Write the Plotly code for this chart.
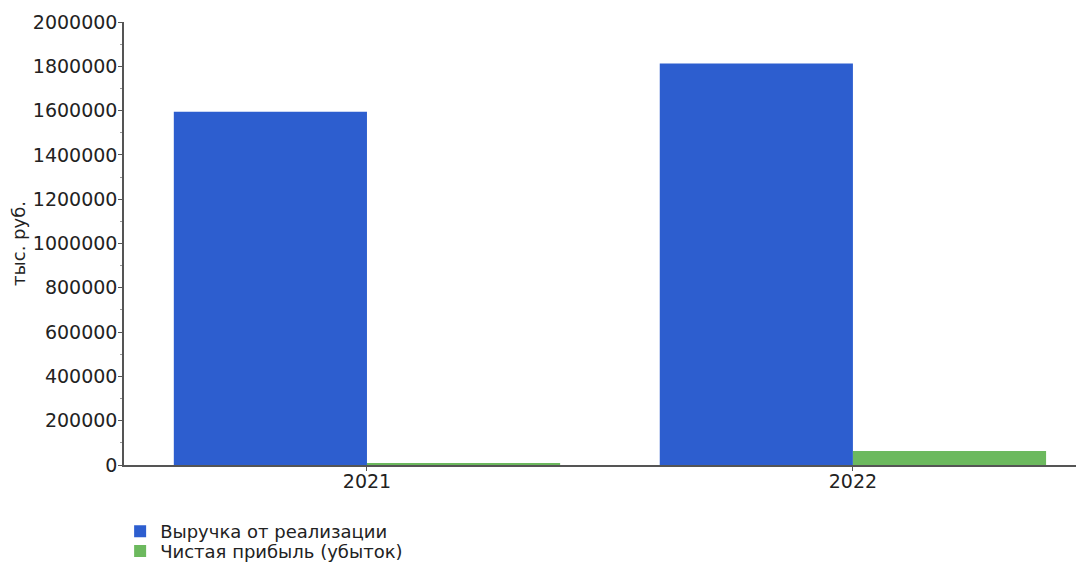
import plotly.graph_objects as go

years = ["2021", "2022"]
revenue = [1595000, 1813000]
net_profit = [9000, 63000]
series_names = ["Выручка от реализации", "Чистая прибыль (убыток)"]
y_ticks = [0, 200000, 400000, 600000, 800000, 1000000, 1200000, 1400000, 1600000, 1800000, 2000000]

fig = go.Figure()
fig.add_trace(go.Bar(x=years, y=revenue, name=series_names[0], marker_color="#2d5ecf",
                     marker_line_width=0, legend="legend"))
fig.add_trace(go.Bar(x=years, y=net_profit, name=series_names[1], marker_color="#6cb95e",
                     marker_line_width=0, legend="legend2"))

leg_common = dict(xanchor="left", yanchor="middle", orientation="v",
                  font=dict(size=18, family="DejaVu Sans", color="#222"),
                  bgcolor="rgba(0,0,0,0)", itemwidth=30)

fig.update_layout(
    width=1084, height=571,
    barmode="group", bargap=0.205, bargroupgap=0,
    plot_bgcolor="white", paper_bgcolor="white",
    margin=dict(l=116, r=0, t=14, b=114),
    font=dict(family="DejaVu Sans", size=19, color="#222"),
    showlegend=True,
    legend=dict(x=-0.004, y=-0.15, **leg_common),
    legend2=dict(x=-0.004, y=-0.195, **leg_common),
)
fig.update_xaxes(type="category", range=[-0.5, 1.492], showline=True, linecolor="#555", linewidth=2,
                 ticks="outside", ticklen=4, tickcolor="#555", showgrid=False, zeroline=False,
                 automargin=False, tickfont=dict(size=19), ticklabelstandoff=-6)
fig.update_yaxes(range=[0, 2000000], tickvals=y_ticks, ticktext=[str(v) for v in y_ticks],
                 showline=True, linecolor="#555", linewidth=1.5, ticks="outside", ticklen=4,
                 tickcolor="#555", showgrid=False, zeroline=False, automargin=False,
                 tickfont=dict(size=19), ticklabelstandoff=-3,
                 title=dict(text="тыс. руб.", standoff=6, font=dict(size=18)),
                 minor=dict(ticks="outside", ticklen=2, tickcolor="#999", dtick=100000))

fig.write_html("out.html")
